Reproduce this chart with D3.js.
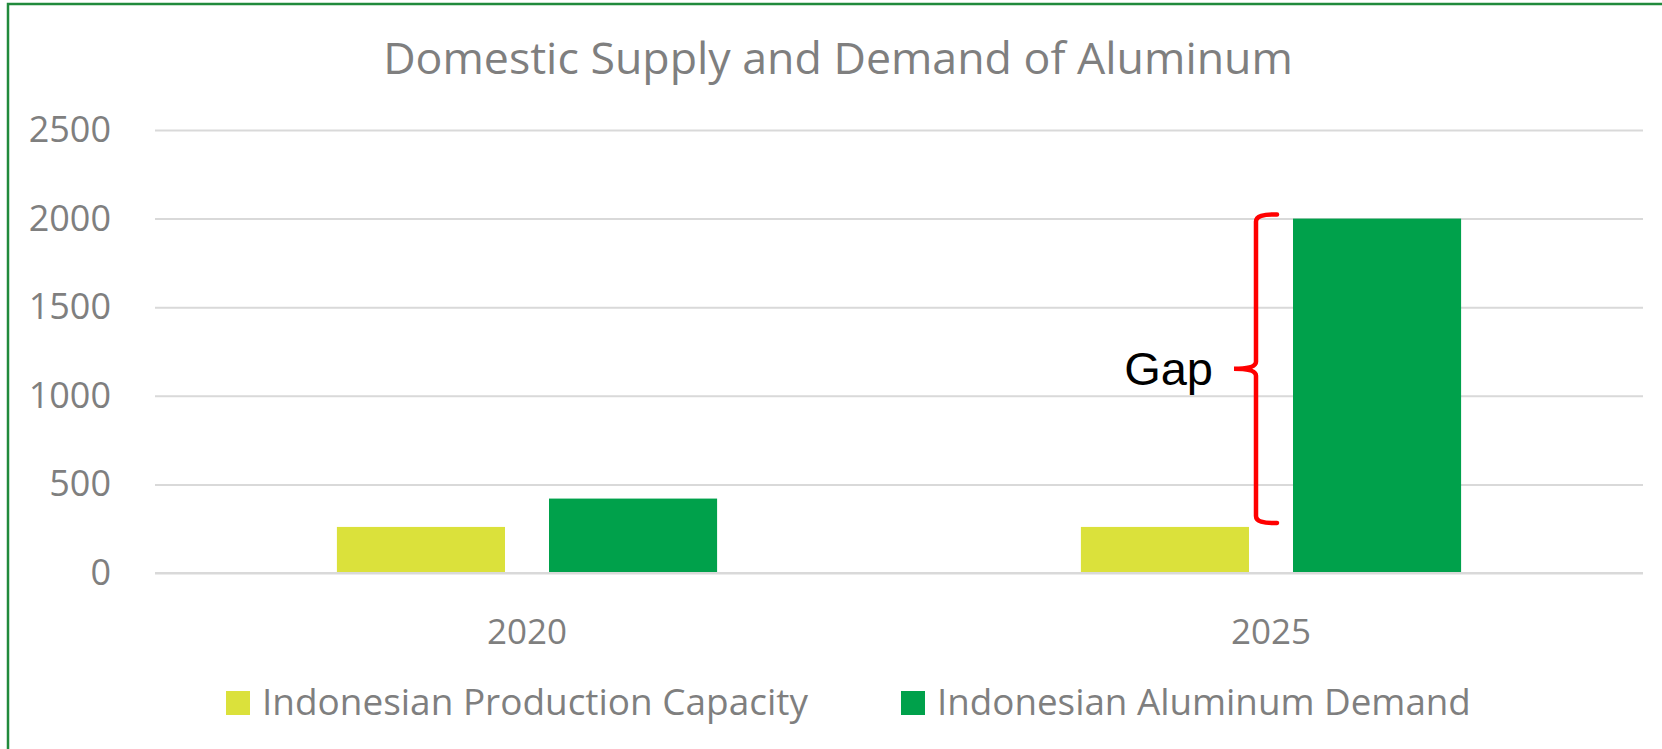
<!DOCTYPE html>
<html>
<head>
<meta charset="utf-8">
<script src="https://cdn.jsdelivr.net/npm/d3@7/dist/d3.min.js"></script>
<style>
  body { margin: 0; background: #fff; }
  svg { display: block; }
  .axis text { font-family: "Open Sans", sans-serif; fill: #7f7f7f; }
  .y.axis line { stroke: #d9d9d9; stroke-width: 2; }
  .axis .domain { display: none; }
</style>
</head>
<body>
<div id="chart"></div>
<script>
// ---------------- data ----------------
var categories = ["2020", "2025"];
var seriesNames = ["Indonesian Production Capacity", "Indonesian Aluminum Demand"];
var capacity = [260, 260];
var demand = [420, 2000];
var yTicks = [0, 500, 1000, 1500, 2000, 2500];
var chartTitle = "Domestic Supply and Demand of Aluminum";
var gapLabel = "Gap";

(function (d3) {
    "use strict";

    var W = 1662, H = 749;
    var margin = { top: 130, left: 155, right: 19, bottom: 176 };
    var width = W - margin.left - margin.right;
    var height = H - margin.top - margin.bottom;
    var colors = ["#dbe13b", "#00a14b"];

    var svg = d3.select("#chart").append("svg")
        .attr("width", W)
        .attr("height", H);

    // outer frame
    svg.append("rect")
        .attr("x", 8).attr("y", 4)
        .attr("width", W + 20).attr("height", H + 20)
        .attr("fill", "none")
        .attr("stroke", "#218a3c")
        .attr("stroke-width", 2.5);

    var g = svg.append("g")
        .attr("transform", "translate(" + margin.left + "," + margin.top + ")");

    // scales
    var x0 = d3.scaleBand().domain(categories).range([0, width])
        .paddingInner(0.489).paddingOuter(0.2445);
    var x1 = d3.scaleBand().domain(seriesNames).range([0, x0.bandwidth()])
        .paddingInner(0.2075).paddingOuter(0);
    var y = d3.scaleLinear().domain([0, 2500]).range([height, 0]);

    // y axis + gridlines
    g.append("g")
        .attr("class", "y axis")
        .call(d3.axisLeft(y).tickValues(yTicks).tickFormat(d3.format("d"))
            .tickSize(-width).tickPadding(44))
        .selectAll("text")
        .style("font-size", "36px");

    // x axis
    g.append("g")
        .attr("class", "x axis")
        .attr("transform", "translate(0," + height + ")")
        .call(d3.axisBottom(x0).tickSize(0).tickPadding(46))
        .selectAll("text")
        .style("font-size", "35px");

    // bars
    var rows = categories.map(function (c, i) {
        return { cat: c, values: [capacity[i], demand[i]] };
    });

    var groups = g.selectAll(".grp").data(rows).enter().append("g")
        .attr("class", "grp")
        .attr("transform", function (d) { return "translate(" + x0(d.cat) + ",0)"; });

    groups.selectAll("rect")
        .data(function (d) {
            return d.values.map(function (v, k) { return { name: seriesNames[k], value: v, k: k }; });
        })
        .enter().append("rect")
        .attr("x", function (d) { return x1(d.name); })
        .attr("width", x1.bandwidth())
        .attr("y", function (d) { return y(d.value); })
        .attr("height", function (d) { return height - y(d.value); })
        .attr("fill", function (d) { return colors[d.k]; });

    // redraw the zero line on top of bars
    g.append("line")
        .attr("x1", 0).attr("x2", width)
        .attr("y1", y(0)).attr("y2", y(0))
        .attr("stroke", "#d9d9d9").attr("stroke-width", 2);

    // title
    var title = svg.append("text")
        .attr("x", 838).attr("y", 74)
        .attr("text-anchor", "middle")
        .style("font-family", "'Open Sans', sans-serif")
        .style("font-size", "46px")
        .style("fill", "#7f7f7f")
        .text(chartTitle);
    fitWidth(title, 910);

    // gap bracket on 2025
    var last = categories.length - 1;
    var bx = margin.left + x0(categories[last]) + x1(seriesNames[0]) + x1.bandwidth() + 7;
    var yTop = margin.top + y(demand[last]) - 4;
    var yBot = margin.top + y(capacity[last]) - 4;
    var yMid = (yTop + yBot) / 2;
    var arm = 21, tip = 22, r = 7;
    var brace = d3.path();
    brace.moveTo(bx + arm, yTop);
    brace.quadraticCurveTo(bx, yTop - 1, bx, yTop + r);
    brace.lineTo(bx, yMid - r);
    brace.quadraticCurveTo(bx, yMid, bx - tip, yMid);
    brace.quadraticCurveTo(bx, yMid, bx, yMid + r);
    brace.lineTo(bx, yBot - r);
    brace.quadraticCurveTo(bx, yBot + 1, bx + arm, yBot);
    svg.append("path")
        .attr("d", brace.toString())
        .attr("fill", "none")
        .attr("stroke", "#ff0000")
        .attr("stroke-width", 4.5)
        .attr("stroke-linecap", "round");

    svg.append("text")
        .attr("x", bx - tip - 21).attr("y", yMid + 16)
        .attr("text-anchor", "end")
        .style("font-family", "'Liberation Sans', Arial, sans-serif")
        .style("font-size", "47px")
        .style("fill", "#000")
        .text(gapLabel);

    // legend
    var legendX = [226, 901];
    var legendW = [546, 534];
    var legend = svg.selectAll(".legend").data(seriesNames).enter().append("g")
        .attr("class", "legend")
        .attr("transform", function (d, i) { return "translate(" + legendX[i] + ",691)"; });
    legend.append("rect")
        .attr("width", 24).attr("height", 24)
        .attr("fill", function (d, i) { return colors[i]; });
    legend.append("text")
        .attr("x", 36).attr("y", 24)
        .style("font-family", "'Open Sans', sans-serif")
        .style("font-size", "34px")
        .style("fill", "#7f7f7f")
        .text(function (d) { return d; })
        .each(function (d, i) { fitWidth(d3.select(this), legendW[i]); });

    function fitWidth(sel, target) {
        var fs = parseFloat(sel.style("font-size"));
        var w = sel.node().getComputedTextLength();
        if (w > 0) sel.style("font-size", (fs * target / w) + "px");
    }
})(d3);
</script>
</body>
</html>
